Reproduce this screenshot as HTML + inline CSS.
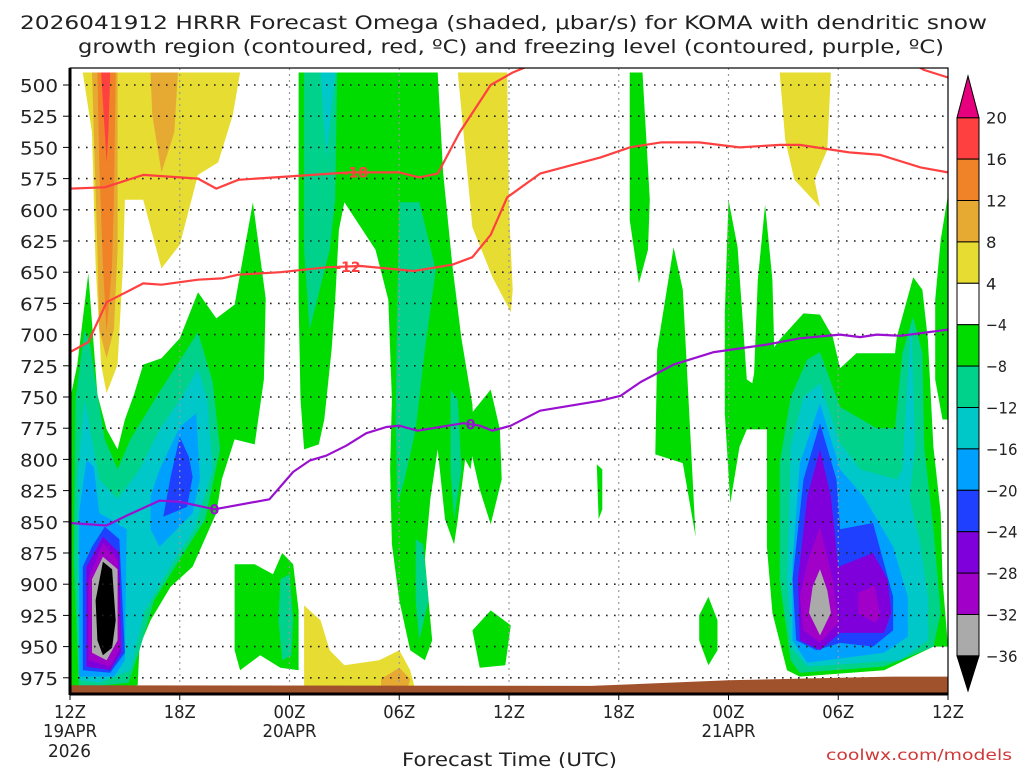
<!DOCTYPE html>
<html><head><meta charset="utf-8"><style>
html,body{margin:0;padding:0;background:#fff;}
svg{display:block;font-family:"DejaVu Sans","Liberation Sans",sans-serif;}
</style></head><body>
<svg id="chart" width="1024" height="768" viewBox="0 0 1024 768" xmlns="http://www.w3.org/2000/svg">
<text x="20" y="29" font-size="19" fill="#222" textLength="967" lengthAdjust="spacingAndGlyphs">2026041912 HRRR Forecast Omega (shaded, μbar/s) for KOMA with dendritic snow</text>
<text x="78" y="53" font-size="19" fill="#222" textLength="866" lengthAdjust="spacingAndGlyphs">growth region (contoured, red, ºC) and freezing level (contoured, purple, ºC)</text>
<defs><clipPath id="plotclip"><rect x="70" y="68" width="878" height="626"/></clipPath></defs>
<g id="shading" clip-path="url(#plotclip)"></g>
<g id="grid"></g>
<g id="ground" clip-path="url(#plotclip)"></g>
<g id="contours" clip-path="url(#plotclip)"></g>
<rect x="70" y="68" width="878" height="626" fill="none" stroke="#000" stroke-width="1.2"/>
<line x1="70" y1="68" x2="70" y2="695" stroke="#000" stroke-width="3"/>
<line x1="70" y1="694" x2="948" y2="694" stroke="#000" stroke-width="3"/>
<g id="axes"></g>
<g id="colorbar"></g>
<text x="402" y="766" font-size="19" fill="#222" textLength="215" lengthAdjust="spacingAndGlyphs">Forecast Time (UTC)</text>
<text x="826" y="760" font-size="15" fill="#d03838" textLength="186" lengthAdjust="spacingAndGlyphs">coolwx.com/models</text>
</svg>
<script>
// ---- data ----
const pressureTicks=[500,525,550,575,600,625,650,675,700,725,750,775,800,825,850,875,900,925,950,975];
const timeTicks=[0,6,12,18,24,30,36,42,48];
const timeLabels=["12Z","18Z","00Z","06Z","12Z","18Z","00Z","06Z","12Z"];
const dateLabels=["19APR","","20APR","","","","21APR","",""];
const cbarLevels=[20,16,12,8,4,-4,-8,-12,-16,-20,-24,-28,-32,-36];
const cbarColors=["#ff4040","#f08228","#e6aa32","#e6dc32","#ffffff","#00dc00","#00d28c","#00c8c8","#00a0ff","#2040ff","#8000dc","#a000c8","#aaaaaa"];
// contour lines [forecast hour, hPa]
const lineM18a=[[0,583],[1.9,582],[4,572],[7,575],[8,583],[9.2,576],[11.2,574],[15.3,570],[18,570],[19.1,574],[20.1,571],[21.3,538],[23,500],[24.2,490],[25.2,484]];
const lineM18b=[[46.2,484],[46.7,488],[48,494]];
const lineM12=[[0,714],[1,706],[2,674],[2.8,668],[4,659],[5,660],[7,656],[8.3,655],[9.2,652],[11.5,650],[14.1,646],[15.9,645],[18.8,649],[20.9,644],[22,638],[23,620],[23.9,590],[25.7,571],[29,558],[30.6,550],[32.3,546],[34.4,546],[36.6,550],[38.8,548],[39.9,548],[42.6,554],[44.3,556],[46.5,566],[48,570]];
const lineZero=[[0,851],[2,853],[3.1,845],[4.9,833],[6,834],[7.9,840],[10.9,832],[12.2,810],[13.1,801],[14,797],[15.1,789],[16.2,779],[17.3,774],[18,773],[19,777],[21.5,771],[22.4,773],[23.1,777],[24.1,773],[25.7,761],[29,753],[30.1,749],[31.2,738],[33,724],[35.2,714],[38.1,708],[39.9,703],[42.1,700],[43.2,702],[44.1,700],[45.4,701],[48,696]];
const groundTop=[[0,981],[28.5,981.5],[36,977],[45,974],[48,974]];
// shaded omega regions [hour, hPa]
const shadeYellow=[
[[.7,490],[9.3,490],[8.9,524],[8.1,562],[7,572],[6,628],[5,647],[4,592],[3,592],[2.9,644],[2.6,724],[2,747],[1.7,724],[1.4,644],[1.2,538]],
[[21.2,490],[23.9,490],[24,600],[24.2,664],[24.1,682],[23.1,654],[22,614]],
[[38.8,490],[41.6,490],[41.4,552],[40.7,576],[41,598],[39.6,576],[39.1,544]],
[[12.8,917],[13.7,929],[14.2,953],[15,965],[16.9,961],[18,953],[18.6,969],[18.9,986],[12.8,986]]];
const shadeOrangeYellow=[
[[1.2,490],[2.6,490],[2.6,632],[2.4,696],[2,719],[1.6,696],[1.5,632]],
[[4.4,490],[5.9,490],[5.7,538],[5,570],[4.5,524]],
[[17,976],[18,967],[18.6,976],[18.4,986],[17,986]]];
const shadeOrange=[[[1.5,490],[2.5,490],[2.4,591],[2.3,644],[2,698],[1.8,644],[1.6,564]]];
const shadeRed=[[[1.7,490],[2.2,490],[2.1,538],[2,562],[1.9,538]]];
const shadeGreen=[
[[0,752],[.4,724],[1,651],[1.5,748],[2,776],[2.6,792],[3,768],[3.5,748],[4,724],[5,719],[6,703],[7,666],[8,687],[9,676],[10,594],[10.7,671],[10.6,736],[10.1,788],[9,784],[8.3,816],[8,843],[6.7,886],[5.5,902],[4.4,929],[3.8,950],[3.7,981],[0,986]],
[[12.5,490],[20.1,490],[20.4,570],[20.9,644],[21.4,703],[22,756],[22.1,784],[21.9,808],[21.6,800],[21.2,848],[21,868],[20.5,848],[20.1,792],[19.7,832],[19.4,880],[19.8,945],[19.4,961],[18.6,953],[18,913],[17.6,868],[17.5,808],[17.6,752],[17.4,672],[16.7,632],[15,594],[14.7,616],[14.5,672],[14.3,712],[13.9,768],[13.6,788],[12.8,792],[12.6,752],[12.5,672]],
[[21.9,764],[23,744],[23.5,776],[23.6,816],[23,852],[22.4,824],[21.9,792]],
[[9,884],[10.1,884],[11.1,892],[11.6,875],[12.2,884],[12.5,921],[12.5,969],[11.5,967],[10.4,957],[9.3,969],[9,953]],
[[22,937],[23,921],[24.1,933],[23.8,965],[22.4,967]],
[[30.6,490],[31.3,490],[31.7,592],[31.6,632],[31.1,659],[30.6,608]],
[[33,630],[33.5,664],[33.9,776],[34.2,862],[33.5,803],[32,796],[32.1,712]],
[[36,592],[36.5,630],[37,736],[37.3,739],[37.4,731],[37.6,656],[38,596],[38.4,656],[38.5,710],[38.8,704],[40.1,683],[41,684],[41.7,702],[42.1,727],[43,715],[45.1,715],[45.2,702],[46.1,654],[46.6,664],[46.9,704],[47.2,790],[47.6,843],[47.7,896],[48,950],[47.2,950],[44.5,969],[39.9,974],[39.2,969],[38.4,923],[38.1,870],[38.1,776],[37,776],[36.6,790],[36.1,835],[35.8,763],[35.8,683]],
[[48,588],[48,768],[47.7,768],[47.3,736],[47.3,672],[47.6,624]],
[[34.9,910],[35.4,929],[35.4,953],[34.9,965],[34.4,945],[34.4,925]],
[[28.8,804],[29.1,808],[29.1,840],[28.9,848]]];
const shadeTeal=[
[[.8,696],[1.1,708],[1.5,748],[1.9,784],[2.6,808],[3.3,784],[4.8,748],[7,698],[7.8,738],[8.2,792],[7.4,848],[6,880],[4.6,913],[3.8,953],[3.2,979],[.5,983],[.2,880],[.3,752]],
[[12.8,490],[14.6,490],[14.5,592],[14.2,632],[13.1,696],[12.8,632]],
[[18,594],[19.1,594],[20,648],[19.4,712],[18.9,776],[18.3,816],[17.9,836],[17.8,768],[17.9,672]],
[[20.8,744],[21.2,752],[21.4,808],[21,848],[20.8,808]],
[[18.9,864],[19.3,868],[19.6,913],[19.1,945],[18.9,913]],
[[11.5,896],[12,892],[12.2,929],[12.1,957],[11.6,961],[11.4,929]],
[[41,714],[42.1,758],[44.1,775],[45.1,775],[45.5,715],[46.1,686],[46.6,715],[46.7,790],[47.2,856],[47.6,923],[47.2,950],[44.5,966],[39.9,971],[39.4,961],[38.8,897],[38.8,803],[39.4,750],[40.3,720]]];
const shadeCyan=[
[[.8,752],[1.2,784],[1.6,816],[2.6,832],[3.8,808],[4.9,776],[6.2,748],[7,727],[7.5,752],[7.8,808],[6.8,856],[5.4,888],[4.1,921],[3.3,969],[1.6,979],[.5,977],[.4,816]],
[[13.7,490],[14.5,490],[14,560]],
[[41,739],[42.1,787],[43.2,808],[45.2,816],[45.5,808],[46,688],[46.2,790],[45.9,830],[46.5,870],[46.9,910],[46.9,945],[45.4,961],[40.3,966],[39.4,950],[39.2,896],[39.4,790],[40.1,750]]];
const shadeBlue=[
[[.5,843],[.9,800],[1.3,806],[1.6,843],[2.2,848],[3.1,856],[3,961],[2.4,974],[.5,974]],
[[4.4,830],[4.9,808],[6,774],[6.9,763],[7.1,816],[6.7,843],[4.9,870],[4.4,856]],
[[41,755],[42.1,808],[43.4,830],[45,870],[45.8,910],[45.8,942],[44.5,955],[40.3,963],[39.5,945],[39.5,883],[39.9,803]]];
const shadeDarkBlue=[
[[6,782],[6.5,798],[6.7,814],[6.4,838],[5.1,846],[5.5,814]],
[[1.9,854],[2.7,864],[3,955],[2.2,971],[.7,969],[.7,886],[1.2,870]],
[[41,771],[41.9,816],[42.1,856],[43.9,851],[45,910],[45,937],[43.9,950],[42.1,947],[40.8,953],[39.7,945],[39.5,896],[40.1,816]]];
const shadePurple=[
[[1.8,862],[2.7,875],[2.8,955],[2.2,969],[.9,966],[.9,886]],
[[41,792],[41.6,830],[42,886],[43.9,875],[44.7,896],[44.9,923],[44.5,939],[42.1,939],[41,953],[39.9,945],[39.8,896],[40.3,830]]];
const shadeMagenta=[
[[1.8,867],[2.6,880],[2.8,950],[2.2,966],[1,961],[1,896]],
[[41,854],[41.7,896],[42,931],[41,947],[40.1,937],[39.9,910],[40.3,883]],
[[43.1,907],[44,901],[44.3,926],[44,931],[43.1,923]]];
const shadeGray=[
[[1.8,878],[2.6,888],[2.6,945],[2,961],[1.2,955],[1.2,896]],
[[41,888],[41.4,905],[41.6,923],[41,941],[40.4,923],[40.6,902]]];
const shadeBlack=[[[1.8,882],[2.3,888],[2.5,929],[2.3,951],[1.8,957],[1.5,945],[1.4,913]]];

// ---- scales ----
const NS="http://www.w3.org/2000/svg";
const xs=h=>70+h*878/48;
const ys=p=>85+(p-500)*1.248;
function mk(tag,parent){const e=document.createElementNS(NS,tag);parent.appendChild(e);return e;}
const pts=arr=>arr.map(d=>xs(d[0]).toFixed(1)+","+ys(d[1]).toFixed(1)).join(" ");
function fit(t,w){t.setAttribute("textLength",w);t.setAttribute("lengthAdjust","spacingAndGlyphs");}

// shading
const shadeG=document.getElementById("shading");
const layers=[[shadeYellow,"#e6dc32","shade-4-to-8"],[shadeOrangeYellow,"#e6aa32","shade-8-to-12"],[shadeOrange,"#f08228","shade-12-to-16"],[shadeRed,"#ff4040","shade-16-to-20"],[shadeGreen,"#00dc00","shade-neg4-to-neg8"],[shadeTeal,"#00d28c","shade-neg8-to-neg12"],[shadeCyan,"#00c8c8","shade-neg12-to-neg16"],[shadeBlue,"#00a0ff","shade-neg16-to-neg20"],[shadeDarkBlue,"#2040ff","shade-neg20-to-neg24"],[shadePurple,"#8000dc","shade-neg24-to-neg28"],[shadeMagenta,"#a000c8","shade-neg28-to-neg32"],[shadeGray,"#aaaaaa","shade-neg32-to-neg36"],[shadeBlack,"#000000","shade-below-neg36"]];
layers.forEach(L=>{L[0].forEach(poly=>{const e=mk("polygon",shadeG);e.setAttribute("points",pts(poly));e.setAttribute("fill",L[1]);

});});

// grid
const gridG=document.getElementById("grid");
pressureTicks.forEach(p=>{const l=mk("line",gridG);l.setAttribute("x1",70);l.setAttribute("x2",948);l.setAttribute("y1",ys(p));l.setAttribute("y2",ys(p));l.setAttribute("stroke","#222");l.setAttribute("stroke-width","1.6");l.setAttribute("stroke-dasharray","1.6 6.4");

});
timeTicks.slice(1,-1).forEach(h=>{const l=mk("line",gridG);l.setAttribute("x1",xs(h));l.setAttribute("x2",xs(h));l.setAttribute("y1",68);l.setAttribute("y2",694);l.setAttribute("stroke","#999");l.setAttribute("stroke-width","1.2");l.setAttribute("stroke-dasharray","2 4");

});

// ground
const gG=document.getElementById("ground");
const gp=mk("polygon",gG);
gp.setAttribute("points",pts(groundTop.concat([[48,995],[0,995]])));gp.setAttribute("fill","#a0522d");



// contours
const cG=document.getElementById("contours");
function line(arr,color,name){const e=mk("polyline",cG);e.setAttribute("points",pts(arr));e.setAttribute("fill","none");e.setAttribute("stroke",color);e.setAttribute("stroke-width","2.2");e.setAttribute("stroke-linejoin","round");

}
line(lineM18a,"#ff4040","contour-minus18");
line(lineM18b,"#ff4040","contour-minus18-right");
line(lineM12,"#ff4040","contour-minus12");
line(lineZero,"#9a10d0","freezing-level-0c");
function lab(t,h,p,color,name){const e=mk("text",cG);e.setAttribute("x",xs(h));e.setAttribute("y",ys(p)+5);e.setAttribute("text-anchor","middle");e.setAttribute("font-size","14");e.setAttribute("font-weight","bold");e.setAttribute("fill",color);e.textContent=t;

}
lab("-18",15.6,570,"#ff4040","label-minus18");
lab("-12",15.2,646,"#ff4040","label-minus12");
lab("0",7.9,840,"#9a10d0","label-zero-left");
lab("0",21.9,772,"#9a10d0","label-zero-right");

// axes
const aG=document.getElementById("axes");
pressureTicks.forEach(p=>{const t=mk("text",aG);t.setAttribute("x",20);t.setAttribute("y",ys(p)+7);t.setAttribute("font-size","18");t.setAttribute("fill","#222");t.textContent=p;fit(t,38);


const k=mk("line",aG);k.setAttribute("x1",63);k.setAttribute("x2",70);k.setAttribute("y1",ys(p));k.setAttribute("y2",ys(p));k.setAttribute("stroke","#000");

});
timeTicks.forEach((h,i)=>{const t=mk("text",aG);t.setAttribute("x",xs(h)-16);t.setAttribute("y",718);t.setAttribute("font-size","18");t.setAttribute("fill","#222");t.textContent=timeLabels[i];fit(t,32);


const k=mk("line",aG);k.setAttribute("x1",xs(h));k.setAttribute("x2",xs(h));k.setAttribute("y1",694);k.setAttribute("y2",700);k.setAttribute("stroke","#000");


if(dateLabels[i]){const d=mk("text",aG);d.setAttribute("x",xs(h)-27);d.setAttribute("y",737);d.setAttribute("font-size","18");d.setAttribute("fill","#222");d.textContent=dateLabels[i];fit(d,54);

}});
const yr=mk("text",aG);yr.setAttribute("x",xs(0)-22);yr.setAttribute("y",757);yr.setAttribute("font-size","18");yr.setAttribute("fill","#222");yr.textContent="2026";fit(yr,43);



// colorbar
const cb=document.getElementById("colorbar");
const cbTop=117.7,cbStep=41.4,cbx=957,cbw=22;
const cbY=i=>cbTop+i*cbStep;
cbarColors.forEach((c,i)=>{const r=mk("rect",cb);r.setAttribute("x",cbx);r.setAttribute("y",cbY(i));r.setAttribute("width",cbw);r.setAttribute("height",cbStep);r.setAttribute("fill",c);r.setAttribute("stroke","#000");r.setAttribute("stroke-width","1");

});
const tu=mk("polygon",cb);tu.setAttribute("points",`${cbx},${cbTop} ${cbx+cbw},${cbTop} ${cbx+cbw/2},76`);tu.setAttribute("fill","#e6007e");tu.setAttribute("stroke","#000");


const bl=cbY(cbarColors.length);
const td=mk("polygon",cb);td.setAttribute("points",`${cbx},${bl} ${cbx+cbw},${bl} ${cbx+cbw/2},691`);td.setAttribute("fill","#000");td.setAttribute("stroke","#000");


cbarLevels.forEach((v,i)=>{const t=mk("text",cb);const s=v<0?"−"+(-v):String(v);t.setAttribute("x",986);t.setAttribute("y",cbY(i)+6);t.setAttribute("font-size","16");t.setAttribute("fill","#222");t.textContent=s;fit(t,s.length*10.5);

});
</script>
</body></html>
